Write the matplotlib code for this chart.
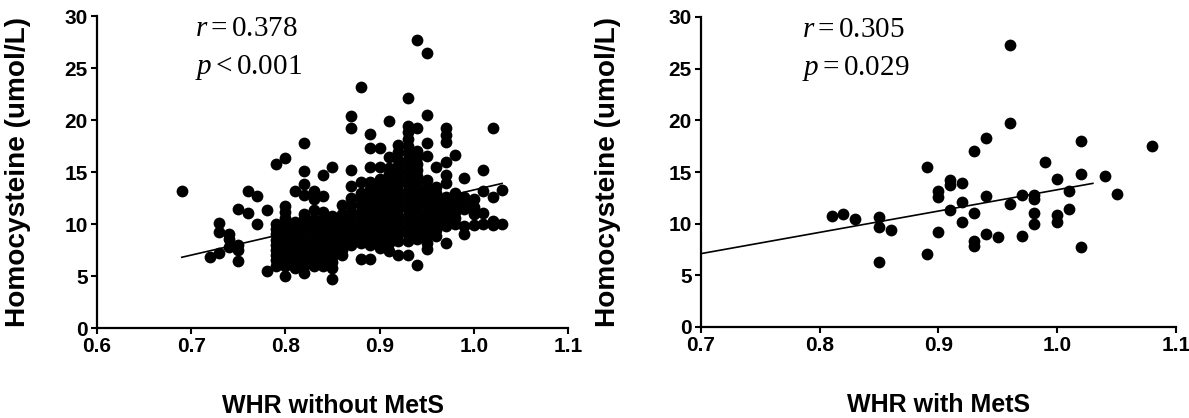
import matplotlib
matplotlib.use("Agg")
import matplotlib.pyplot as plt
import numpy as np

# ---------------- data: WHR without MetS (left panel) ----------------
whr_no_cols = [0.69, 0.72, 0.73, 0.74, 0.75, 0.76, 0.77, 0.78, 0.79, 0.80,
               0.81, 0.82, 0.83, 0.84, 0.85, 0.86, 0.87, 0.88, 0.89, 0.90,
               0.91, 0.92, 0.93, 0.94, 0.95, 0.96, 0.97, 0.98, 0.99, 1.00,
               1.01, 1.02, 1.03]
hcy_no_cols = [
    [13.2],
    [6.8],
    [10.1, 9.2, 7.2],
    [9.0, 8.6, 7.8],
    [11.4, 8.0, 7.5, 6.4],
    [13.2, 11.1],
    [12.7, 10.0],
    [11.3, 5.5],
    [15.8, 10.0, 9.5, 9.0, 8.5, 8.0, 7.5, 7.0, 6.5, 6.0],
    [16.3, 11.7, 11.2, 10.6, 10.0, 9.5, 9.0, 8.5, 8.0, 7.5, 7.0, 6.5, 6.0, 5.0],
    [13.2, 10.2, 9.7, 9.2, 8.7, 8.2, 7.7, 7.2, 6.7, 6.2, 5.8],
    [17.8, 15.1, 13.8, 12.8, 11.0, 10.5, 10.0, 9.5, 9.0, 8.5, 8.0, 7.5, 7.0, 6.5, 6.0, 5.3],
    [13.2, 12.4, 11.3, 10.5, 10.0, 9.5, 9.0, 8.5, 8.0, 7.5, 7.0, 6.5, 6.0],
    [14.7, 12.7, 11.2, 10.5, 10.0, 9.5, 9.0, 8.5, 8.0, 7.5, 7.0, 6.5, 6.0],
    [15.5, 10.8, 10.3, 9.8, 9.3, 8.8, 8.3, 7.8, 7.3, 6.8, 6.3, 5.8, 4.7],
    [11.8, 11.0, 10.5, 10.0, 9.5, 9.0, 8.5, 8.0, 7.5, 7.0],
    [20.4, 19.2, 15.2, 13.7, 12.5, 11.8, 11.2, 10.6, 10.0, 9.5, 9.0, 8.5, 8.0],
    [23.2, 14.0, 13.0, 12.4, 11.8, 11.2, 10.6, 10.0, 9.4, 8.8, 8.2, 6.6],
    [18.7, 17.3, 15.5, 14.0, 13.4, 12.8, 12.2, 11.6, 11.0, 10.4, 9.8, 9.2, 8.6, 8.0, 6.6],
    [17.3, 15.5, 14.3, 13.7, 13.1, 12.5, 11.9, 11.3, 10.7, 10.1, 9.5, 8.9, 8.3, 7.7],
    [19.9, 16.4, 15.4, 14.8, 14.2, 13.6, 13.0, 12.4, 11.8, 11.2, 10.6, 10.0, 9.4, 8.8, 8.2, 7.4],
    [17.6, 16.9, 16.2, 15.6, 15.0, 14.4, 13.8, 13.2, 12.6, 12.0, 11.4, 10.8, 10.2, 9.6, 9.0, 8.4, 7.0],
    [22.1, 19.4, 18.8, 18.2, 17.5, 16.8, 16.2, 15.6, 15.0, 14.4, 13.8, 13.2, 12.6, 12.0, 11.4,
     10.8, 10.2, 9.6, 9.0, 8.4, 7.0],
    [27.7, 19.2, 17.0, 16.4, 15.8, 15.2, 14.6, 14.0, 13.4, 12.8, 12.2, 11.6, 11.0, 10.4, 9.8,
     9.2, 8.6, 6.1],
    [26.4, 20.5, 17.8, 16.5, 14.2, 13.6, 13.0, 12.4, 11.8, 11.2, 10.6, 10.0, 9.4, 8.8, 8.2, 7.6],
    [15.5, 13.6, 13.0, 12.4, 11.8, 11.2, 10.6, 10.0, 9.4, 8.8],
    [19.2, 18.6, 17.9, 16.0, 14.7, 13.9, 12.6, 12.0, 11.4, 10.8, 10.2, 9.8, 8.2],
    [16.6, 13.0, 12.4, 11.8, 11.2, 10.6, 10.0],
    [14.4, 12.6, 12.0, 11.4, 9.8, 9.0],
    [12.4, 11.6, 11.0, 9.9],
    [15.2, 13.2, 11.1, 10.0],
    [19.2, 12.6, 10.3, 9.9],
    [13.3, 10.0],
]
fit_no_x = [0.69, 1.03]
fit_no_y = [6.8, 13.9]

# ---------------- data: WHR with MetS (right panel) ----------------
whr_met = [0.81, 0.82, 0.83, 0.85, 0.85, 0.86, 0.85, 0.89, 0.89, 0.90,
           0.90, 0.90, 0.91, 0.91, 0.91, 0.92, 0.92, 0.92, 0.93, 0.93,
           0.93, 0.93, 0.94, 0.94, 0.94, 0.95, 0.96, 0.96, 0.96, 0.97,
           0.97, 0.98, 0.98, 0.98, 0.98, 0.99, 1.00, 1.00, 1.00, 1.01,
           1.01, 1.02, 1.02, 1.02, 1.04, 1.05, 1.08]
hcy_met = [10.7, 10.9, 10.5, 10.6, 9.7, 9.4, 6.3, 15.5, 7.1, 13.2,
           12.6, 9.2, 14.2, 13.7, 11.3, 13.9, 12.1, 10.2, 17.0, 11.0,
           8.3, 7.8, 18.3, 12.7, 9.0, 8.7, 27.3, 19.7, 11.9, 12.8,
           8.8, 12.8, 12.4, 11.0, 10.0, 16.0, 14.3, 10.8, 10.2, 13.2,
           11.4, 18.0, 14.8, 7.7, 14.6, 12.9, 17.5]
fit_met_x = [0.70, 1.03]
fit_met_y = [7.1, 13.9]

r_no, p_no = "0.378", "0.001"
r_met, p_met = "0.305", "0.029"

y_ticks = [0, 5, 10, 15, 20, 25, 30]
x_ticks_no = [0.6, 0.7, 0.8, 0.9, 1.0, 1.1]
x_ticks_met = [0.7, 0.8, 0.9, 1.0, 1.1]

whr_no = [x for x, col in zip(whr_no_cols, hcy_no_cols) for _ in col]
hcy_no = [y for col in hcy_no_cols for y in col]

# ---------------- style ----------------
plt.rcParams['font.family'] = ['Liberation Sans', 'DejaVu Sans']
plt.rcParams['mathtext.fontset'] = 'custom'
plt.rcParams['mathtext.rm'] = 'Liberation Serif'
plt.rcParams['mathtext.it'] = 'Liberation Serif:italic'

W, H = 1189, 418
fig = plt.figure(figsize=(W / 100, H / 100), dpi=100)
ax1 = fig.add_axes([97 / W, (H - 328) / H, 471 / W, 312 / H])
ax2 = fig.add_axes([701 / W, (H - 327) / H, 475 / W, 310 / H])


def style(ax, xticks, xlim, xlabel):
    ax.set_xlim(*xlim)
    ax.set_ylim(0, 30)
    ax.set_xticks(xticks)
    ax.set_xticklabels([f"{t:.1f}" for t in xticks])
    ax.set_yticks(y_ticks)
    ax.set_yticklabels([str(t) for t in y_ticks])
    for s in ['top', 'right']:
        ax.spines[s].set_visible(False)
    for s in ['left', 'bottom']:
        ax.spines[s].set_linewidth(1.6)
    ax.tick_params(axis='both', direction='out', length=4.5, width=1.5,
                   labelsize=15, pad=2)
    for lab in ax.get_xticklabels() + ax.get_yticklabels():
        lab.set_fontweight('bold')
    ax.set_xlabel(xlabel, fontsize=18, fontweight='bold')
    ax.xaxis.set_label_coords(0.5, -0.25)
    ax.xaxis.label.set_va('center')
    ax.set_ylabel("Homocysteine (umol/L)", fontsize=18, fontweight='bold')


ax1.scatter(whr_no, hcy_no, s=72, color='black', linewidths=0, clip_on=False, zorder=3)
ax1.plot(fit_no_x, fit_no_y, color='black', lw=1.2, zorder=2)
style(ax1, x_ticks_no, (0.6, 1.1), "WHR without MetS")
ax1.yaxis.set_label_coords(-0.168, 0.5)
ax1.yaxis.label.set_va('center')
ax1.text(0.704, 28.1, rf"$r = {r_no}$", fontsize=21, va='baseline', ha='left')
ax1.text(0.704, 24.4, rf"$p < {p_no}$", fontsize=21, va='baseline', ha='left')

ax2.scatter(whr_met, hcy_met, s=72, color='black', linewidths=0, clip_on=False, zorder=3)
ax2.plot(fit_met_x, fit_met_y, color='black', lw=1.2, zorder=2)
style(ax2, x_ticks_met, (0.7, 1.1), "WHR with MetS")
ax2.yaxis.set_label_coords(-0.196, 0.5)
ax2.yaxis.label.set_va('center')
ax2.text(0.785, 28.1, rf"$r = {r_met}$", fontsize=21, va='baseline', ha='left')
ax2.text(0.785, 24.4, rf"$p = {p_met}$", fontsize=21, va='baseline', ha='left')

# fit the y-label length to the reference (about 310 px)
fig.canvas.draw()
renderer = fig.canvas.get_renderer()
for ax in (ax1, ax2):
    lab = ax.yaxis.label
    h = lab.get_window_extent(renderer).height
    lab.set_fontsize(lab.get_fontsize() * 310.0 / h)

fig.savefig("out.png", dpi=100)
